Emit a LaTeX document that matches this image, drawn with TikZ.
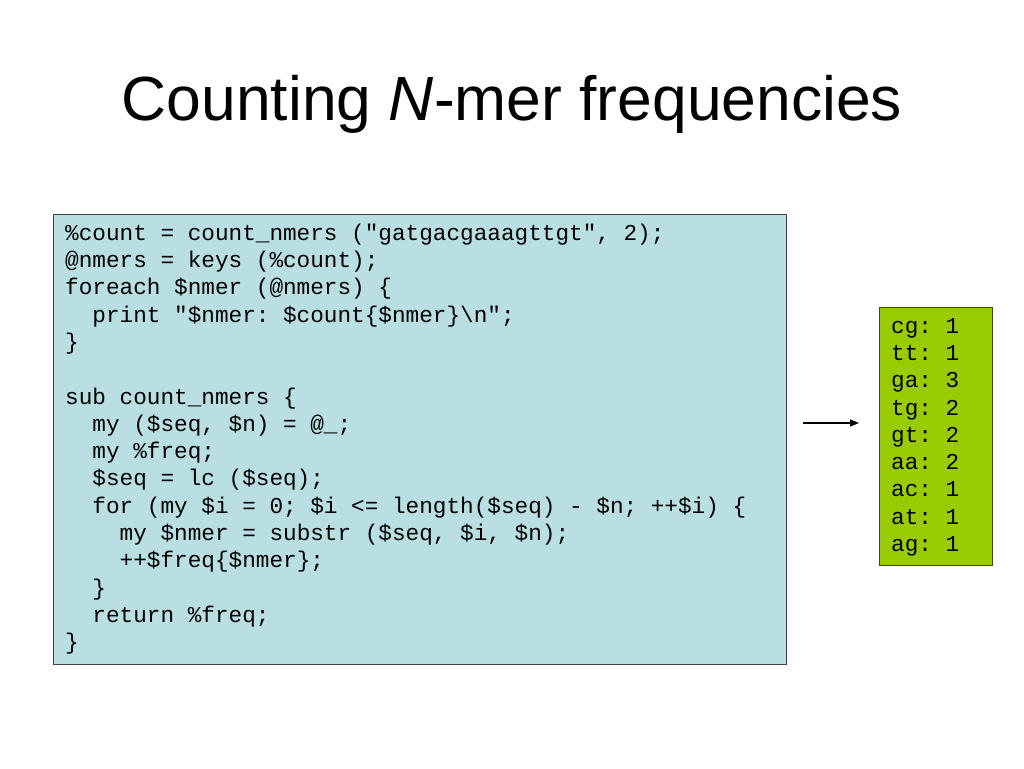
\documentclass[tikz,border=0pt]{standalone}
\usepackage{fontspec}
\setmainfont{Liberation Sans}
\setmonofont{Liberation Mono}
\usetikzlibrary{arrows.meta}
\definecolor{codebg}{HTML}{B9DFE2}
\definecolor{outbg}{HTML}{99CC00}
\definecolor{frame}{HTML}{404040}
\tikzset{
  panel/.style={draw=frame, line width=1.2pt, inner sep=0pt, anchor=north west},
  codetext/.style={anchor=north west, inner sep=0pt, align=left,
    font=\ttfamily\fontsize{22.7pt}{27.3pt}\selectfont},
  conn/.style={line width=1.2pt, -{Triangle[length=9pt,width=7pt]}}
}
\begin{document}
\begin{tikzpicture}[x=1pt,y=1pt]
\useasboundingbox (0,0) rectangle (1024,768);
\node[anchor=base, inner sep=0pt, font=\fontsize{62.4pt}{70pt}\selectfont] (title) at (512,647)
  {Counting \textit{N}-mer frequencies};
\node[panel, fill=codebg, minimum width=733pt, minimum height=450pt] (codebox) at (53,554) {};
\node[codetext] (code) at (65,548) {\rule{0pt}{20pt}\%count = count\_nmers ("gatgacgaaagttgt", 2);\\
@nmers = keys (\%count);\\
foreach \$nmer (@nmers) \{\\
\ \ print "\$nmer: \$count\{\$nmer\}\textbackslash n";\\
\}\\
\mbox{}\\
sub count\_nmers \{\\
\ \ my (\$seq, \$n) = @\_;\\
\ \ my \%freq;\\
\ \ \$seq = lc (\$seq);\\
\ \ for (my \$i = 0; \$i <= length(\$seq) - \$n; ++\$i) \{\\
\ \ \ \ my \$nmer = substr (\$seq, \$i, \$n);\\
\ \ \ \ ++\$freq\{\$nmer\};\\
\ \ \}\\
\ \ return \%freq;\\
\}};
\node[panel, fill=outbg, minimum width=113pt, minimum height=258pt] (outbox) at (879,461) {};
\node[codetext] (out) at (891,455) {\rule{0pt}{20pt}cg: 1\\
tt: 1\\
ga: 3\\
tg: 2\\
gt: 2\\
aa: 2\\
ac: 1\\
at: 1\\
ag: 1};
\coordinate (arrowstart) at (803,345);
\coordinate (arrowend) at (859,345);
\draw[conn] (arrowstart) -- (arrowend);
\end{tikzpicture}
\end{document}
